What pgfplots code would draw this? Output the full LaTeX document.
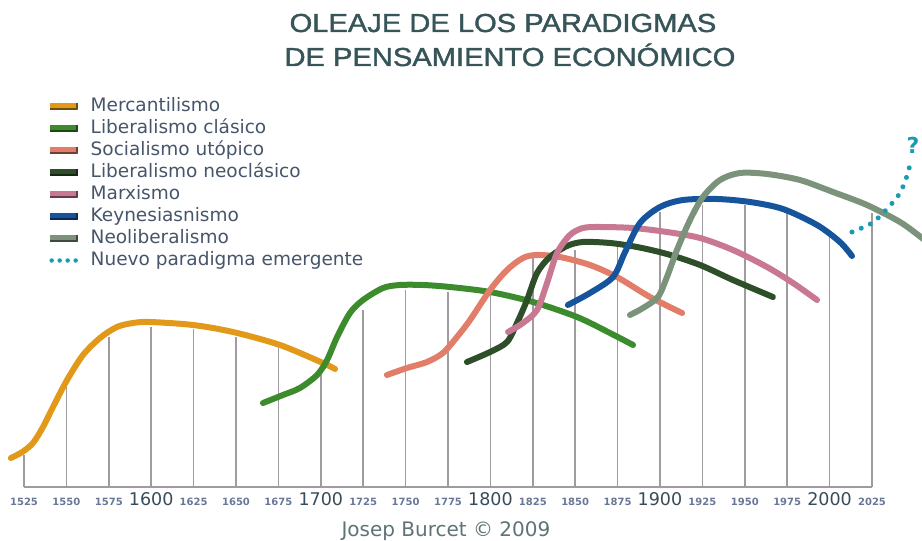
\documentclass[border=0pt]{standalone}
\usepackage{pgfplots}
\pgfplotsset{compat=1.18}
\usepackage{fontspec}
\setmainfont{DejaVu Sans}
\newfontfamily\titlefont[FakeBold=1.4]{Liberation Sans}
\definecolor{cMerc}{RGB}{226,152,24}
\definecolor{cLib}{RGB}{60,140,45}
\definecolor{cSoc}{RGB}{226,125,105}
\definecolor{cNeo}{RGB}{45,78,40}
\definecolor{cMarx}{RGB}{200,120,145}
\definecolor{cKey}{RGB}{22,85,155}
\definecolor{cNeol}{RGB}{122,147,122}
\definecolor{cNuevo}{RGB}{25,155,178}
\definecolor{gridc}{RGB}{160,155,160}
\definecolor{tickS}{RGB}{105,120,150}
\definecolor{tickB}{RGB}{55,75,90}
\definecolor{legtext}{RGB}{70,85,105}
\definecolor{titlec}{RGB}{55,85,88}
\definecolor{copyc}{RGB}{95,115,118}
\newcommand{\sm}[1]{{\fontsize{10}{10}\selectfont\bfseries\color{tickS}#1}}
\newcommand{\bg}[1]{{\fontsize{17.5}{18}\selectfont\color{tickB}#1}}
\pgfplotsset{swatch/.style={legend image code/.code={%
  \path[fill=#1, draw=none] (0pt,-3pt) rectangle (28pt,3.2pt);
  \path[draw=#1!50!black, fill=none, line width=1.4pt, line cap=butt] (0pt,-2.3pt) -- (27.3pt,-2.3pt) -- (27.3pt,3.2pt);
  \path[draw=none, fill=none] (0pt,0pt) -- (41pt,0pt);}}}
\begin{document}
\begin{tikzpicture}
\begin{axis}[
  scale only axis, width=922pt, height=541pt,
  xmin=1510.85, xmax=2054.48, ymin=-54, ymax=487,
  axis line style={draw=none},
  ytick=\empty,
  xtick={1525,1550,...,2025},
  xticklabels={\sm{1525},\sm{1550},\sm{1575},\bg{1600},\sm{1625},\sm{1650},\sm{1675},\bg{1700},\sm{1725},\sm{1750},\sm{1775},\bg{1800},\sm{1825},\sm{1850},\sm{1875},\bg{1900},\sm{1925},\sm{1950},\sm{1975},\bg{2000},\sm{2025}},
  xtick pos=bottom,
  major tick length=0pt,
  xticklabel style={anchor=base, yshift=35pt, inner sep=0pt},
  legend cell align=left,
  legend style={at={(rel axis cs:0.05315,0.8207)}, anchor=north west, draw=none, fill=none,
    inner sep=0pt, outer sep=0pt, row sep=3pt,
    font=\fontsize{18.5}{21}\selectfont\color{legtext},
    nodes={inner sep=0pt, text height=14pt, text depth=5pt}},
  every axis plot/.append style={line cap=round, line join=round},
]
% vertical drop lines and baseline
\addplot[forget plot, ycomb, draw=gridc, line width=1.6pt, line cap=butt, no markers] table {
1525 32
1550 104
1575 150
1600 160
1625 158
1650 150
1675 139
1700 117
1725 177
1750 197
1775 195
1800 192
1825 229
1850 237
1875 240
1900 275
1925 282
1950 282
1975 274
2000 252
2025 274
};
\addplot[forget plot, draw=gridc, line width=1.8pt, line cap=butt] coordinates {(1525,0) (2025,0)};

\addplot[smooth, cMerc, line width=6pt, swatch=cMerc] coordinates {
(1517.3,29) (1524.0,35) (1530.3,44) (1536.2,60) (1542.1,80) (1550.4,107) (1559.8,132) (1569.8,149)
(1579.8,160) (1589.3,164) (1599.3,165) (1624.6,162) (1648.2,155) (1675.9,142) (1701.3,124) (1708.4,118)};
\addlegendentry{Mercantilismo}

\addplot[smooth, cLib, line width=6pt, swatch=cLib] coordinates {
(1665.9,84) (1677.7,92) (1687.7,99) (1697.8,112) (1703.7,127) (1709.6,150) (1717.2,174) (1724.9,187)
(1736.7,199) (1746.7,202) (1760.3,202) (1776.2,200) (1799.8,195) (1825.1,185) (1851.1,170) (1870.5,154) (1884.1,142)};
\addlegendentry{Liberalismo clásico}

\addplot[smooth, cSoc, line width=6pt, swatch=cSoc] coordinates {
(1739.0,112) (1750.8,119) (1762.6,125) (1772.0,134) (1780.3,150) (1788.0,167) (1799.8,197) (1809.8,217)
(1819.2,229) (1827.5,232) (1841.0,230) (1858.7,222) (1874.6,210) (1894.1,190) (1913.0,174)};
\addlegendentry{Socialismo utópico}

\addplot[smooth, cNeo, line width=6pt, swatch=cNeo] coordinates {
(1786.2,125) (1799.8,135) (1809.8,145) (1815.7,164) (1821.6,187) (1827.5,214) (1835.1,230) (1845.2,241)
(1854.6,245) (1870.5,244) (1886.4,240) (1904.1,233) (1923.6,222) (1943.0,207) (1966.6,190)};
\addlegendentry{Liberalismo neoclásico}

\addplot[smooth, cMarx, line width=6pt, swatch=cMarx] coordinates {
(1810.4,155) (1819.2,164) (1827.5,177) (1833.4,204) (1839.3,234) (1846.9,252) (1854.6,259) (1864.6,260)
(1884.1,259) (1904.1,255) (1923.6,249) (1943.0,237) (1963.1,220) (1978.4,204) (1992.6,187)};
\addlegendentry{Marxismo}

\addplot[smooth, cKey, line width=6pt, swatch=cKey] coordinates {
(1845.7,182) (1858.7,194) (1872.3,210) (1879.4,235) (1888.2,264) (1900.0,280) (1913.6,287) (1933.6,288)
(1953.1,285) (1972.5,278) (1992.6,262) (2006.1,245) (2013.2,231)};
\addlegendentry{Keynesiasnismo}

\addplot[smooth, cNeol, line width=6pt, swatch=cNeol] coordinates {
(1882.3,172) (1890.0,179) (1898.8,190) (1904.1,210) (1910.0,237) (1917.7,267) (1925.3,290) (1935.4,307)
(1947.2,314) (1963.1,313) (1982.5,307) (2002.0,295) (2022.0,282) (2041.5,265) (2054.5,249) (2062.2,239)};
\addlegendentry{Neoliberalismo}

\addplot[smooth, cNuevo, line width=5pt, line cap=round, dash pattern=on 0pt off 10pt,
  legend image code/.code={\path[draw=cNuevo, line width=4.5pt, line cap=round, dash pattern=on 0pt off 8pt] (2pt,0pt) -- (29pt,0pt); \path[draw=none, fill=none] (0pt,0pt) -- (41pt,0pt);}]
  coordinates {(2013.2,255) (2025.0,264) (2033.8,278) (2041.5,294) (2046.2,314) (2047.4,324)};
\addlegendentry{Nuevo paradigma emergente}

\node[anchor=center, text=cNuevo, font=\fontsize{22}{22}\selectfont\bfseries] at (rel axis cs:0.9902,0.732) {?};
\node[anchor=base, text=titlec, font=\titlefont\fontsize{26}{26}\selectfont] at (rel axis cs:0.5455,0.9409) {\scalebox{1.12}[1]{OLEAJE DE LOS PARADIGMAS}};
\node[anchor=base, text=titlec, font=\titlefont\fontsize{26}{26}\selectfont] at (rel axis cs:0.5531,0.8780) {\scalebox{1.12}[1]{DE PENSAMIENTO ECONÓMICO}};
\node[anchor=base, text=copyc, font=\fontsize{20}{21}\selectfont] at (rel axis cs:0.4837,0.0092) {Josep Burcet © 2009};
\end{axis}
\pgfresetboundingbox
\useasboundingbox (0,0) rectangle (922pt,541pt);
\end{tikzpicture}
\end{document}
